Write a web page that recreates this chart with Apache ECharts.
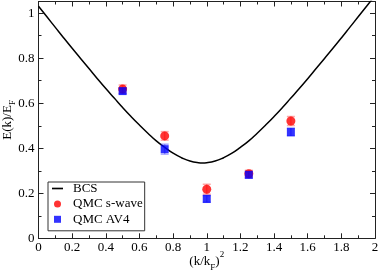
<!DOCTYPE html>
<html>
<head>
<meta charset="utf-8">
<script src="https://cdn.jsdelivr.net/npm/echarts@6/dist/echarts.min.js"></script>
<style>html,body{margin:0;padding:0;background:#fff}#c{width:382px;height:277px}</style>
</head>
<body>
<div id="c"></div>
<script>
// BCS curve, points
var bcsX = [0,0.05,0.1,0.15,0.2,0.25,0.3,0.35,0.4,0.45,0.5,0.55,0.6,0.65,0.7,0.75,0.8,0.85,0.9,0.95,0.975,1.0,1.05,1.1,1.15,1.2,1.25,1.3,1.35,1.4,1.45,1.5,1.55,1.6,1.65,1.7,1.75,1.8,1.85,1.9,1.95,2.0];
var bcsY = [1.031,0.984,0.937,0.890,0.844,0.799,0.754,0.709,0.665,0.623,0.581,0.541,0.503,0.467,0.433,0.404,0.378,0.358,0.343,0.336,0.335,0.336,0.343,0.358,0.378,0.404,0.433,0.467,0.503,0.541,0.581,0.623,0.665,0.709,0.754,0.799,0.844,0.890,0.937,0.984,1.031,1.078];
// QMC data
var qmcX = [0.5, 0.75, 1.0, 1.25, 1.5];
var swaveY = [0.663, 0.455, 0.218, 0.287, 0.521];
var swaveErr = [0.018, 0.019, 0.022, 0.015, 0.020];
var av4Y = [0.654, 0.396, 0.175, 0.282, 0.472];
var av4Err = [0.012, 0.022, 0.015, 0.015, 0.018];
var xTicks = [0, 0.2, 0.4, 0.6, 0.8, 1, 1.2, 1.4, 1.6, 1.8, 2];
var yTicks = [0, 0.2, 0.4, 0.6, 0.8, 1];

var FONT = '"Liberation Serif","DejaVu Serif",serif';
var AX = '#222';

function pairs(xs, ys){ return xs.map(function(x,i){ return [x, ys[i]]; }); }
function errData(xs, ys, es){ return xs.map(function(x,i){ return [x, ys[i]-es[i], ys[i]+es[i]]; }); }
function errRender(color){
  return function(params, api){
    var x = api.value(0);
    var lo = api.coord([x, api.value(1)]);
    var hi = api.coord([x, api.value(2)]);
    var w = 4;
    var st = {stroke: color, lineWidth: 1.5};
    return {type:'group', children:[
      {type:'line', shape:{x1:lo[0], y1:lo[1], x2:hi[0], y2:hi[1]}, style:st},
      {type:'line', shape:{x1:lo[0]-w, y1:lo[1], x2:lo[0]+w, y2:lo[1]}, style:st},
      {type:'line', shape:{x1:hi[0]-w, y1:hi[1], x2:hi[0]+w, y2:hi[1]}, style:st}
    ]};
  };
}

var tickCommon = {show:true, inside:true, length:5, lineStyle:{color:AX, width:1}};
var minorCommon = {show:true, splitNumber:2, length:3, lineStyle:{color:AX, width:1}};
var lineCommon = {show:true, onZero:false, lineStyle:{color:AX, width:1}};
var labelCommon = {color:'#000', fontFamily:FONT, fontSize:13};

var chart = echarts.init(document.getElementById('c'), null, {renderer:'canvas'});
chart.setOption({
  animation:false,
  grid:{left:38.5, right:7, top:1.5, bottom:38.7, containLabel:false, outerBoundsMode:'none'},
  xAxis:[{
    type:'value', min:xTicks[0], max:xTicks[xTicks.length-1], interval:0.2, position:'bottom',
    axisLine:lineCommon, axisTick:tickCommon, minorTick:minorCommon, splitLine:{show:false},
    axisLabel:Object.assign({margin:3, formatter:function(v){return String(+v.toFixed(1));}}, labelCommon),
    name:'{a|(k/k}{b|F}{a|)}{c|2}', nameLocation:'middle', nameGap:12, nameMoveOverlap:false,
    nameTextStyle:{rich:{
      a:{fontFamily:FONT, fontSize:13, color:'#000', lineHeight:22},
      b:{fontFamily:FONT, fontSize:9, color:'#000', lineHeight:22, verticalAlign:'bottom'},
      c:{fontFamily:FONT, fontSize:9, color:'#000', lineHeight:22, verticalAlign:'top'}
    }}
  },{
    type:'value', min:0, max:2, interval:0.2, position:'top',
    axisLine:lineCommon, axisTick:tickCommon, minorTick:minorCommon, splitLine:{show:false},
    axisLabel:{show:false}
  }],
  yAxis:[{
    type:'value', min:yTicks[0], max:1.052, interval:0.2, position:'left',
    axisLine:lineCommon, axisTick:tickCommon, minorTick:minorCommon, splitLine:{show:false},
    axisLabel:Object.assign({margin:4, showMaxLabel:false, formatter:function(v){
      var r = +v.toFixed(2); return yTicks.indexOf(r) >= 0 ? String(r) : '';
    }}, labelCommon),
    name:'{a|E(k)/E}{b|F}', nameLocation:'middle', nameGap:21, nameMoveOverlap:false,
    nameTextStyle:{rich:{
      a:{fontFamily:FONT, fontSize:13, color:'#000', lineHeight:20},
      b:{fontFamily:FONT, fontSize:9, color:'#000', lineHeight:20, verticalAlign:'bottom'}
    }}
  },{
    type:'value', min:0, max:1.052, interval:0.2, position:'right',
    axisLine:lineCommon, axisTick:tickCommon, minorTick:minorCommon, splitLine:{show:false},
    axisLabel:{show:false}
  }],
  legend:{
    orient:'vertical', left:48, top:182,
    padding:[0,2,5,4], itemGap:2.4, itemWidth:11, itemHeight:7,
    borderColor:'#333', borderWidth:1, backgroundColor:'#fff',
    textStyle:{fontFamily:FONT, fontSize:13, color:'#000', lineHeight:12, padding:[0,0,0,5]},
    data:[
      {name:'BCS', icon:'path://M0,0 L20,0 L20,3 L0,3 Z', itemStyle:{color:'#000'}},
      {name:'QMC s-wave', icon:'circle'},
      {name:'QMC AV4', icon:'path://M0,0 L10,0 L10,10 L0,10 Z'}
    ]
  },
  series:[
    {name:'BCS', type:'line', data:pairs(bcsX, bcsY), symbol:'none', smooth:true,
     lineStyle:{color:'#000', width:1.5}, itemStyle:{color:'#000'}, clip:true, z:2},
    {name:'errS', type:'custom', data:errData(qmcX, swaveY, swaveErr), renderItem:errRender('rgba(255,60,60,0.45)'), z:3},
    {name:'errA', type:'custom', data:errData(qmcX, av4Y, av4Err), renderItem:errRender('rgba(60,60,255,0.45)'), z:3},
    {name:'QMC s-wave', type:'scatter', data:pairs(qmcX, swaveY), symbol:'circle', symbolSize:9,
     itemStyle:{color:'#ff0000'}, z:4},
    {name:'QMC AV4', type:'scatter', data:pairs(qmcX, av4Y), symbol:'rect', symbolSize:8,
     itemStyle:{color:'#0000ff'}, z:5}
  ]
});
</script>
</body>
</html>
